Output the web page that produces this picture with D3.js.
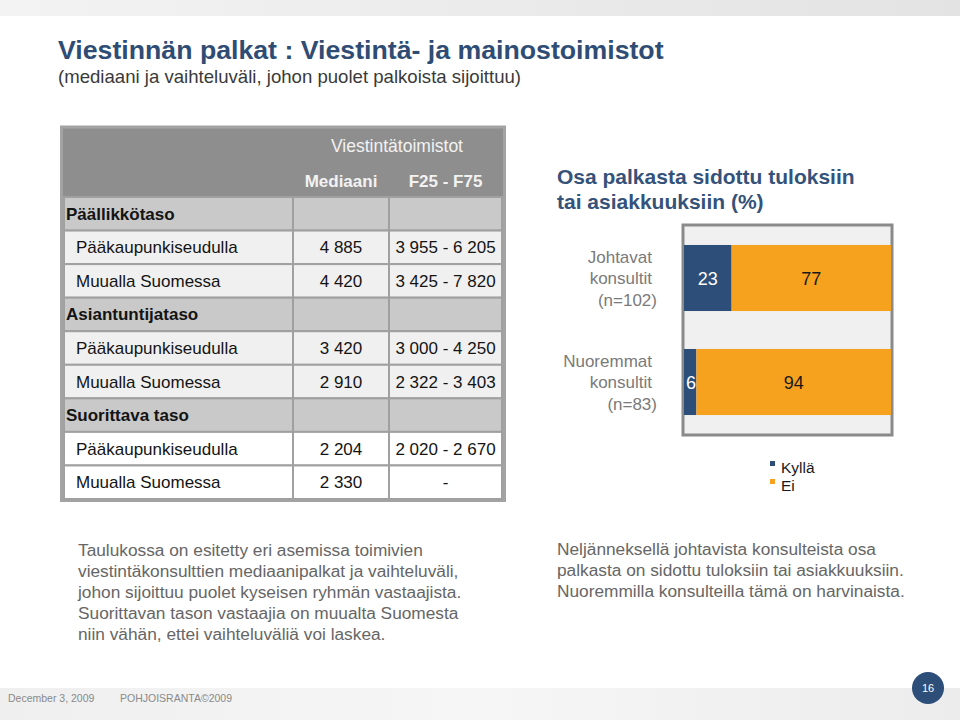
<!DOCTYPE html>
<html><head><meta charset="utf-8">
<script src="https://cdn.jsdelivr.net/npm/d3@7"></script>
<style>body{margin:0;background:#fff}svg{display:block}</style>
</head><body>
<svg id="c" width="960" height="720"></svg>
<script>
// ---- data ----
const title = "Viestinnän palkat : Viestintä- ja mainostoimistot";
const subtitle = "(mediaani ja vaihteluväli, johon puolet palkoista sijoittuu)";
const tableHeader = "Viestintätoimistot";
const columns = ["Mediaani", "F25 - F75"];
const sections = ["Päällikkötaso", "Asiantuntijataso", "Suorittava taso"];
const regions = ["Pääkaupunkiseudulla", "Muualla Suomessa"];
const medians = [["4 885", "4 420"], ["3 420", "2 910"], ["2 204", "2 330"]];
const ranges = [["3 955 - 6 205", "3 425 - 7 820"], ["3 000 - 4 250", "2 322 - 3 403"], ["2 020 - 2 670", "-"]];

const chartTitle = ["Osa palkasta sidottu tuloksiin", "tai asiakkuuksiin (%)"];
const groups = ["Johtavat konsultit (n=102)", "Nuoremmat konsultit (n=83)"];
const groupLines = [["Johtavat", "konsultit", "(n=102)"], ["Nuoremmat", "konsultit", "(n=83)"]];
const kylla = [23, 6];
const ei = [77, 94];
const legendLabels = ["Kyllä", "Ei"];

const leftNote = ["Taulukossa on esitetty eri asemissa toimivien", "viestintäkonsulttien mediaanipalkat ja vaihteluväli,", "johon sijoittuu puolet kyseisen ryhmän vastaajista.", "Suorittavan tason vastaajia on muualta Suomesta", "niin vähän, ettei vaihteluväliä voi laskea."];
const rightNote = ["Neljänneksellä johtavista konsulteista osa", "palkasta on sidottu tuloksiin tai asiakkuuksiin.", "Nuoremmilla konsulteilla tämä on harvinaista."];
const footerDate = "December 3, 2009";
const footerOrg = "POHJOISRANTA©2009";
const pageNo = "16";

// ---- drawing ----
const svg = d3.select("#c");
const F = "Arial, 'Liberation Sans', sans-serif";
const NARROW = "'Liberation Sans Narrow', 'Arial Narrow', sans-serif";
const BLUE = "#2d4e79", ORANGE = "#f6a21f";

const defs = svg.append("defs");
const g1 = defs.append("linearGradient").attr("id", "topg");
g1.append("stop").attr("offset", "0").attr("stop-color", "#f3f3f3");
g1.append("stop").attr("offset", "1").attr("stop-color", "#e3e3e3");
const g2 = defs.append("linearGradient").attr("id", "botg");
g2.append("stop").attr("offset", "0").attr("stop-color", "#efefef");
g2.append("stop").attr("offset", "0.5").attr("stop-color", "#f6f6f6");
g2.append("stop").attr("offset", "1").attr("stop-color", "#ececec");

svg.append("rect").attr("x", 0).attr("y", 0).attr("width", 960).attr("height", 16).attr("fill", "url(#topg)");
svg.append("rect").attr("x", 0).attr("y", 688).attr("width", 960).attr("height", 32).attr("fill", "url(#botg)");

svg.append("text").attr("x", 58).attr("y", 59).attr("font-family", NARROW).attr("font-weight", "bold")
  .attr("font-size", 26.7).attr("fill", "#2f4d74").text(title);
svg.append("text").attr("x", 58).attr("y", 83).attr("font-family", NARROW)
  .attr("font-size", 18.6).attr("fill", "#3a3a3a").text(subtitle);

// ---- table ----
const rows = [];
sections.forEach((s, i) => {
  rows.push({label: s, type: "section", med: "", rng: "", grp: i});
  regions.forEach((r, j) => rows.push({label: r, type: "data", med: medians[i][j], rng: ranges[i][j], grp: i}));
});
const ty = d3.scaleBand().domain(d3.range(rows.length)).range([197, 499]);
const colX = [64, 293, 389, 502];
const FS = 17;
const T = svg.append("g");
T.append("rect").attr("x", 61.5).attr("y", 127).attr("width", 443).attr("height", 373.5)
  .attr("fill", "#8e8e8e").attr("stroke", "#a3a3a3").attr("stroke-width", 3);
T.append("text").attr("x", 397).attr("y", 152).attr("text-anchor", "middle")
  .attr("font-family", F).attr("font-size", 17.5).attr("fill", "#f2f2f2").text(tableHeader);
columns.forEach((c, i) => {
  T.append("text").attr("x", (colX[i + 1] + colX[i + 2]) / 2).attr("y", 187).attr("text-anchor", "middle")
    .attr("font-family", F).attr("font-weight", "bold").attr("font-size", FS).attr("fill", "#f2f2f2").text(c);
});
const rg = T.selectAll("g.row").data(rows).join("g").attr("class", "row")
  .attr("transform", (d, i) => `translate(0,${ty(i)})`);
rg.each(function(d) {
  const g = d3.select(this), h = ty.bandwidth();
  const fill = d.type === "section" ? "#c9c9c9" : (d.grp === 2 ? "#ffffff" : "#f0f0f0");
  for (let k = 0; k < 3; k++) {
    g.append("rect").attr("x", colX[k]).attr("y", 0).attr("width", colX[k + 1] - colX[k]).attr("height", h)
      .attr("fill", fill).attr("stroke", "#a0a0a0").attr("stroke-width", 2);
  }
  g.append("text").attr("x", d.type === "section" ? 66 : 76).attr("y", h / 2 + 6)
    .attr("font-family", F).attr("font-size", FS).attr("font-weight", d.type === "section" ? "bold" : "normal")
    .attr("fill", "#141414").text(d.label);
  g.append("text").attr("x", (colX[1] + colX[2]) / 2).attr("y", h / 2 + 6).attr("text-anchor", "middle")
    .attr("font-family", F).attr("font-size", FS).attr("fill", "#141414").text(d.med);
  g.append("text").attr("x", (colX[2] + colX[3]) / 2).attr("y", h / 2 + 6).attr("text-anchor", "middle")
    .attr("font-family", F).attr("font-size", FS).attr("fill", "#141414").text(d.rng);
});

// ---- bar chart ----
chartTitle.forEach((t, i) => svg.append("text").attr("x", 557).attr("y", 184 + i * 25)
  .attr("font-family", F).attr("font-weight", "bold").attr("font-size", 21).attr("fill", "#34527a").text(t));

const x = d3.scaleLinear().domain([0, 100]).range([684, 891]);
const y = d3.scaleBand().domain(groups).range([226, 434]).paddingInner(0.365).paddingOuter(0.1825);
svg.append("rect").attr("x", 683).attr("y", 225).attr("width", 209).attr("height", 210)
  .attr("fill", "#f0f0f0").attr("stroke", "#8a8a8a").attr("stroke-width", 3);

const stack = groups.map((g, i) => ({g, k: kylla[i], e: ei[i], lines: groupLines[i]}));
const B = svg.append("g");
B.selectAll("rect.k").data(stack).join("rect").attr("class", "k")
  .attr("x", x(0)).attr("y", d => y(d.g)).attr("width", d => x(d.k) - x(0)).attr("height", y.bandwidth()).attr("fill", BLUE);
B.selectAll("rect.e").data(stack).join("rect").attr("class", "e")
  .attr("x", d => x(d.k)).attr("y", d => y(d.g)).attr("width", d => x(d.k + d.e) - x(d.k)).attr("height", y.bandwidth()).attr("fill", ORANGE);
B.selectAll("text.k").data(stack).join("text").attr("class", "k")
  .attr("x", d => Math.max(x(d.k / 2), x(0) + 7)).attr("y", d => y(d.g) + y.bandwidth() / 2 + 6.5)
  .attr("text-anchor", "middle").attr("font-family", F).attr("font-size", 18).attr("fill", "#fff").text(d => d.k);
B.selectAll("text.e").data(stack).join("text").attr("class", "e")
  .attr("x", d => x(d.k + d.e / 2)).attr("y", d => y(d.g) + y.bandwidth() / 2 + 6.5)
  .attr("text-anchor", "middle").attr("font-family", F).attr("font-size", 18).attr("fill", "#1a1a1a").text(d => d.e);
B.selectAll("text.cat").data(stack).join("text").attr("class", "cat")
  .attr("font-family", F).attr("font-size", 17).attr("fill", "#7a7a7a").attr("text-anchor", "end")
  .each(function(d) {
    const c = y(d.g) + y.bandwidth() / 2;
    d.lines.forEach((l, j) => d3.select(this).append("tspan").attr("x", 652 + (j === 2 ? 5 : 0))
      .attr("y", c - 15 + j * 21.3).text(l));
  });

// legend
const L = svg.append("g").attr("transform", "translate(770,0)");
legendLabels.forEach((l, i) => {
  L.append("rect").attr("x", 0).attr("y", 461 + i * 18).attr("width", 5).attr("height", 5).attr("fill", i ? ORANGE : BLUE);
  L.append("text").attr("x", 11).attr("y", 473 + i * 18).attr("font-family", F).attr("font-size", 15.5).attr("fill", "#1a1a1a").text(l);
});

// notes
leftNote.forEach((t, i) => svg.append("text").attr("x", 78).attr("y", 556 + i * 21)
  .attr("font-family", F).attr("font-size", 17.3).attr("fill", "#666").text(t));
rightNote.forEach((t, i) => svg.append("text").attr("x", 557).attr("y", 555 + i * 21)
  .attr("font-family", F).attr("font-size", 17.3).attr("fill", "#666").text(t));

// footer
svg.append("text").attr("x", 8).attr("y", 702).attr("font-family", NARROW).attr("font-size", 10.5).attr("fill", "#8a8a8a").text(footerDate);
svg.append("text").attr("x", 120).attr("y", 702).attr("font-family", NARROW).attr("font-size", 10.5).attr("fill", "#8a8a8a").text(footerOrg);
svg.append("circle").attr("cx", 928).attr("cy", 688).attr("r", 16).attr("fill", BLUE);
svg.append("text").attr("x", 928).attr("y", 692).attr("text-anchor", "middle").attr("font-family", NARROW)
  .attr("font-size", 11).attr("fill", "#fff").text(pageNo);
</script>
</body></html>
